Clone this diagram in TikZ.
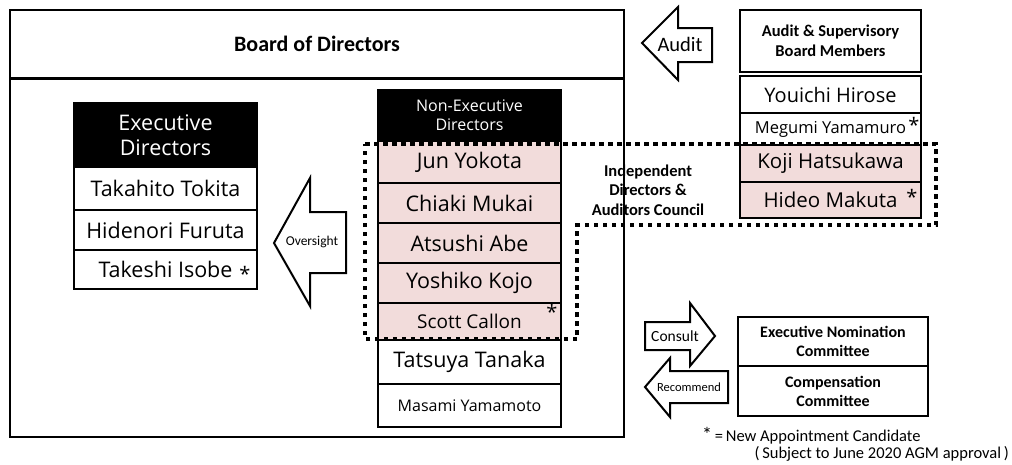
\documentclass[tikz,border=0pt]{standalone}
\usepackage{fontspec}
\setmainfont{Open Sans}
\newfontfamily\hd{Carlito}
\definecolor{pinkfill}{HTML}{F2DCDB}
\tikzset{
  namebox/.style={draw=black, line width=1.3pt, fill=white, inner sep=0pt, minimum width=183pt,
    font=\fontsize{21.5}{25}\selectfont},
  pinkbox/.style={namebox, fill=pinkfill},
  headbox/.style={draw=black, line width=1.3pt, fill=black, text=white, inner sep=0pt, minimum width=183pt,
    align=center},
  blockarrow/.style={draw=black, line width=2pt, fill=white, line join=miter},
  dotline/.style={draw=black, line width=4.5pt, dash pattern=on 4.5pt off 4.5pt},
  star/.style={inner sep=0pt, anchor=north, font=\fontsize{20}{24}\selectfont},
  boldlab/.style={font=\hd\bfseries\fontsize{16.5}{19.5}\selectfont, align=center, inner sep=0pt},
  arrowlab/.style={font=\hd, inner sep=0pt},
}
\begin{document}
\begin{tikzpicture}[x=1pt,y=-1pt]
\useasboundingbox[fill=white] (0,0) rectangle (1012,464);

% Board of Directors
\node[draw=black, line width=2.6pt, minimum width=614pt, minimum height=68pt, inner sep=0pt,
  font=\hd\bfseries\fontsize{22}{26}\selectfont] (board) at (317,44) {Board of Directors};
\node[draw=black, line width=1.8pt, minimum width=614pt, minimum height=358pt, inner sep=0pt] (body) at (317,258) {};

% Executive directors
\node[headbox, minimum height=64pt, font=\fontsize{21.5}{25}\selectfont] (exh) at (165.5,135) {Executive\\Directors};
\node[namebox, minimum height=43pt] (ex1) at (165.5,188.5) {Takahito Tokita};
\node[namebox, minimum height=40pt] (ex2) at (165.5,230) {Hidenori Furuta};
\node[namebox, minimum height=39pt] (ex3) at (165.5,269.5) {Takeshi Isobe\hspace{16pt}};
\node[star] (s1) at (245,266) {*};

% Non-executive directors
\node[headbox, minimum height=51pt, font=\fontsize{16}{19}\selectfont] (neh) at (469.5,115.5) {Non-Executive\\Directors};
\node[pinkbox, minimum height=42pt] (ne1) at (469.5,162) {Jun Yokota};
\node[pinkbox, minimum height=40pt] (ne2) at (469.5,203) {Chiaki Mukai};
\node[pinkbox, minimum height=40pt] (ne3) at (469.5,243) {Atsushi Abe};
\node[pinkbox, minimum height=40pt] (ne4) at (469.5,283) {Yoshiko Kojo};
\node[pinkbox, minimum height=37pt, font=\fontsize{19}{23}\selectfont] (ne5) at (469.5,321.5) {Scott Callon};
\node[star] (s2) at (552,304) {*};
\node[namebox, minimum height=44pt] (ne6) at (469.5,362) {Tatsuya Tanaka};
\node[namebox, minimum height=43pt, font=\fontsize{16}{20}\selectfont] (ne7) at (469.5,405.5) {Masami Yamamoto};

% Audit & supervisory board
\node[draw=black, line width=2.6pt, minimum width=181pt, minimum height=62pt, inner sep=0pt,
  boldlab, font=\hd\bfseries\fontsize{16.5}{20}\selectfont] (asb) at (830.5,41) {Audit \& Supervisory\\Board Members};
\node[namebox, minimum width=181pt, minimum height=37pt, font=\fontsize{20}{24}\selectfont] (as1) at (830.5,94.5) {Youichi Hirose};
\node[namebox, minimum width=181pt, minimum height=32pt, font=\fontsize{16.5}{20}\selectfont] (as2) at (830.5,129) {Megumi Yamamuro\hspace{8pt}};
\node[star] (s3) at (914,117) {*};
\node[pinkbox, minimum width=181pt, minimum height=37pt, font=\fontsize{20.5}{24}\selectfont] (as3) at (830.5,163.5) {Koji Hatsukawa};
\node[pinkbox, minimum width=181pt, minimum height=36pt, font=\fontsize{20.5}{24}\selectfont] (as4) at (830.5,200) {Hideo Makuta\hspace{20pt}};
\node[star] (s4) at (912,189) {*};

% Independent directors & auditors council
\draw[dotline] (365,144) -- (936,144) -- (936,225) -- (577,225) -- (577,339) -- (365,339) -- cycle;
\node[boldlab] (idac) at (648,190) {Independent\\Directors \&\\Auditors Council};

% Block arrows
\draw[blockarrow] (642,43) -- (678,7) -- (678,28) -- (712,28) -- (712,62) -- (678,62) -- (678,80) -- cycle;
\node[arrowlab, font=\hd\fontsize{20.5}{24}\selectfont] (audit) at (680,44) {Audit};
\draw[blockarrow] (274,243) -- (310,178) -- (310,212) -- (346,212) -- (346,273) -- (310,273) -- (310,306) -- cycle;
\node[arrowlab, font=\hd\fontsize{13.5}{16}\selectfont] (over) at (312,242) {Oversight};
\draw[blockarrow] (645,322) -- (690,322) -- (690,303) -- (715,336) -- (690,366) -- (690,350) -- (645,350) -- cycle;
\node[arrowlab, font=\hd\fontsize{15.5}{18}\selectfont] (consult) at (675,336) {Consult};
\draw[blockarrow] (645,387) -- (670,358) -- (670,371) -- (728,371) -- (728,403) -- (670,403) -- (670,417) -- cycle;
\node[arrowlab, font=\hd\fontsize{12.5}{15}\selectfont] (recommend) at (689,387) {Recommend};

% Committees
\node[draw=black, line width=1.3pt, minimum width=190pt, minimum height=49pt, boldlab,
  font=\hd\bfseries\fontsize{16}{19}\selectfont] (nom) at (833,341.5) {Executive Nomination\\Committee};
\node[draw=black, line width=1.3pt, minimum width=190pt, minimum height=50pt, boldlab,
  font=\hd\bfseries\fontsize{16}{19}\selectfont] (comp) at (833,391) {Compensation\\Committee};

% Footnote
\node[anchor=west, inner sep=0pt, font=\hd\fontsize{16.5}{19}\selectfont] (fn1) at (702,436) {{\fontsize{20}{20}\selectfont *}\,=\,New Appointment Candidate};
\node[anchor=east, inner sep=0pt, font=\hd\fontsize{16.5}{19}\selectfont] (fn2) at (1009,454) {(\,Subject to June 2020 AGM approval\,)};
\end{tikzpicture}
\end{document}
